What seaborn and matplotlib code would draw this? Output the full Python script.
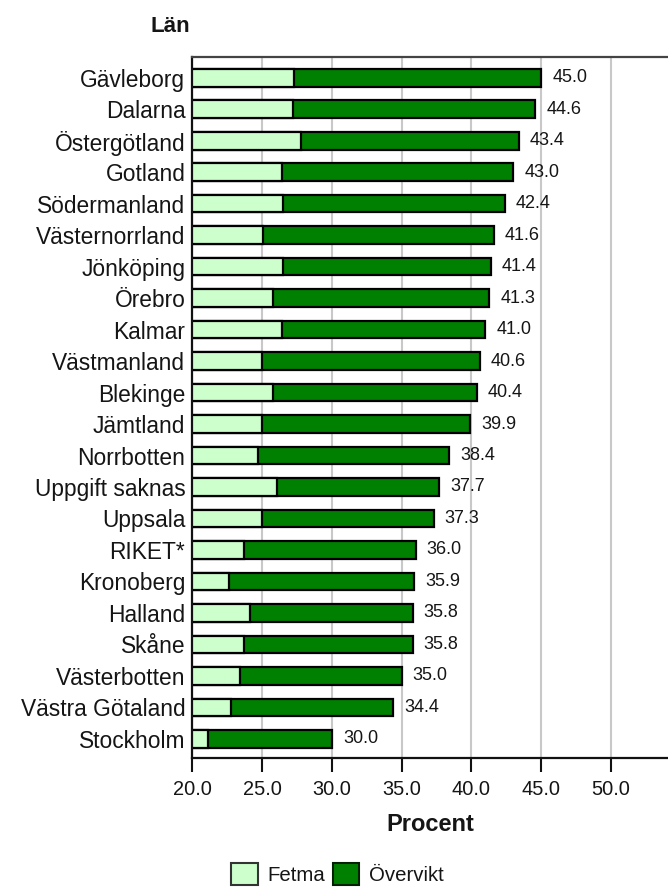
import matplotlib
matplotlib.use('Agg')
import matplotlib.pyplot as plt
from matplotlib.patches import Patch
import seaborn as sns

# data
regions = ['Gävleborg', 'Dalarna', 'Östergötland', 'Gotland', 'Södermanland',
           'Västernorrland', 'Jönköping', 'Örebro', 'Kalmar', 'Västmanland',
           'Blekinge', 'Jämtland', 'Norrbotten', 'Uppgift saknas', 'Uppsala',
           'RIKET*', 'Kronoberg', 'Halland', 'Skåne', 'Västerbotten',
           'Västra Götaland', 'Stockholm']
# where the light (Fetma) part ends on the axis
fetma = [27.3, 27.2, 27.8, 26.4, 26.5, 25.1, 26.5, 25.8, 26.4, 25.0, 25.8,
         25.0, 24.7, 26.1, 25.0, 23.7, 22.6, 24.1, 23.7, 23.4, 22.8, 21.1]
# total (Övervikt incl. Fetma), shown as the bar label
totals = [45.0, 44.6, 43.4, 43.0, 42.4, 41.6, 41.4, 41.3, 41.0, 40.6, 40.4,
          39.9, 38.4, 37.7, 37.3, 36.0, 35.9, 35.8, 35.8, 35.0, 34.4, 30.0]
xticks = [20, 25, 30, 35, 40, 45, 50]

light = '#ccffcc'
dark = '#008000'
txt = '#151515'

sns.set_style('white')
plt.rcParams['font.family'] = ['Liberation Sans', 'DejaVu Sans']

fig = plt.figure(figsize=(6.68, 8.91), dpi=100)
ax = fig.add_axes([0.2879, 0.1496, 0.7121, 0.7861])

sns.barplot(x=totals, y=regions, color=dark, edgecolor='black', linewidth=1.6,
            width=0.56, orient='h', saturation=1, ax=ax)
sns.barplot(x=fetma, y=regions, color=light, edgecolor='black', linewidth=1.6,
            width=0.56, orient='h', saturation=1, ax=ax)

ax.bar_label(ax.containers[0], labels=['%.1f' % v for v in totals],
             padding=8, fontsize=13, color=txt)

ax.set_xlim(20, 54.1)
ax.set_ylim(21.6, -0.65)
ax.set_xticks(xticks)
ax.set_xticklabels(['%.1f' % t for t in xticks])
ax.xaxis.grid(True, color='#c8c8c8', linewidth=1.5)
ax.set_axisbelow(True)

for s in ['left', 'bottom', 'top']:
    ax.spines[s].set_visible(True)
    ax.spines[s].set_color('#111111')
    ax.spines[s].set_linewidth(1.6)
ax.spines['top'].set_color('#444444')
ax.spines['right'].set_visible(False)

ax.tick_params(axis='x', direction='out', length=10, width=1.5, color='#111111',
               labelsize=14.4, labelcolor=txt, pad=6, bottom=True)
ax.tick_params(axis='y', length=0, labelsize=16.4, labelcolor=txt, pad=5)

ax.set_ylabel('')
ax.set_xlabel('Procent', fontsize=17, fontweight='bold', color=txt, labelpad=10)
fig.text(190 / 668, 1 - 27 / 891, 'Län', ha='right', va='center',
         fontsize=16, fontweight='bold', color=txt)

handles = [Patch(facecolor=light, edgecolor='#333333', linewidth=1.5, label='Fetma'),
           Patch(facecolor=dark, edgecolor='#002200', linewidth=1.5, label='Övervikt')]
fig.legend(handles=handles, loc='center', bbox_to_anchor=(0.505, 1 - 874 / 891),
           ncol=2, frameon=False, fontsize=14.7, handlelength=1.3, handleheight=1.3,
           handletextpad=0.45, columnspacing=0.4, labelcolor=txt)

fig.savefig('out.png', dpi=100)
